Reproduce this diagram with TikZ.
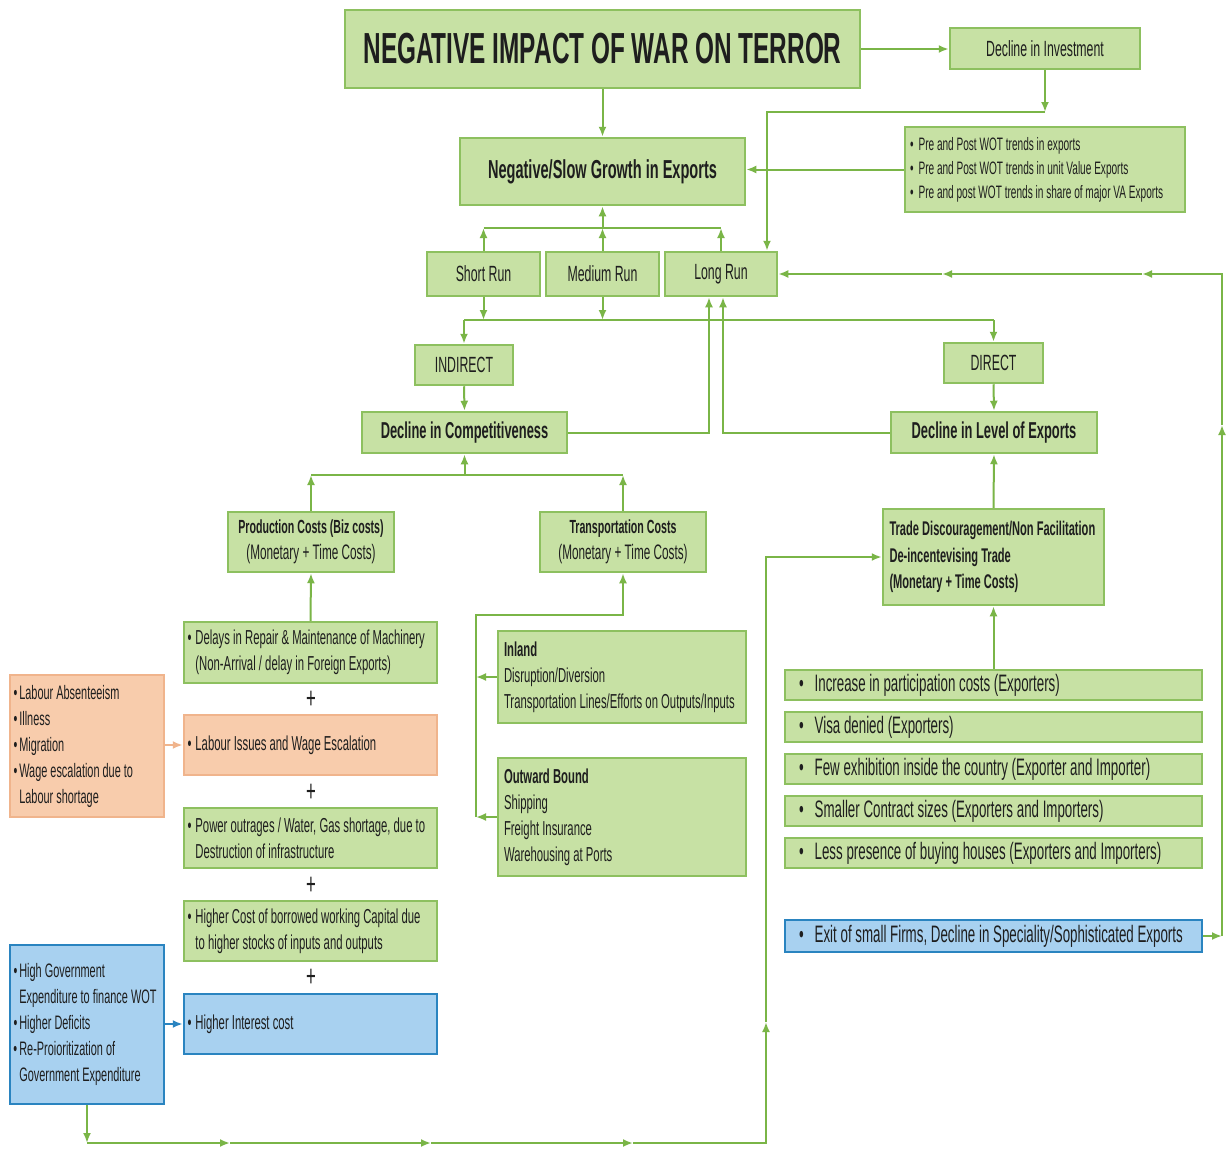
\documentclass[tikz,border=0pt]{standalone}
\usepackage{fontspec}
\setmainfont{Liberation Sans}[FakeStretch=0.56]
\usetikzlibrary{arrows.meta}

\definecolor{boxgreen}{RGB}{199,225,164}
\definecolor{edgegreen}{RGB}{141,192,95}
\definecolor{linegreen}{RGB}{122,181,71}
\definecolor{boxorange}{RGB}{248,204,172}
\definecolor{edgeorange}{RGB}{240,180,140}
\definecolor{boxblue}{RGB}{168,209,240}
\definecolor{edgeblue}{RGB}{42,132,192}
\definecolor{inktext}{RGB}{30,30,30}

\tikzset{
  gbox/.style={draw=edgegreen, fill=boxgreen, line width=2.5pt, inner sep=0pt, text=inktext},
  obox/.style={gbox, draw=edgeorange, fill=boxorange},
  bbox/.style={gbox, draw=edgeblue, fill=boxblue},
  wire/.style={draw=linegreen, line width=2pt},
  arr/.style={wire, -{Latex[length=10pt,width=8pt]}},
  bigtxt/.style={font=\fontsize{22}{26}\selectfont},
  smalltxt/.style={font=\fontsize{20.2}{26}\selectfont},
  listtxt/.style={font=\fontsize{23.8}{26}\selectfont},
  plussign/.style={font=\fontsize{30}{30}\selectfont, text=inktext},
}

\begin{document}
\begin{tikzpicture}[x=1pt,y=-1pt]
\useasboundingbox[fill=white] (0,0) rectangle (1227,1149);

% Top row
\node[gbox, minimum width=515pt, minimum height=78pt, font=\fontsize{43.5}{50}\selectfont\bfseries] (title) at (602.5,49) {NEGATIVE IMPACT OF WAR ON TERROR};
\node[gbox, bigtxt, minimum width=190pt, minimum height=41pt] (invest) at (1045,48.5) {Decline in Investment};
\node[gbox, minimum width=285pt, minimum height=67pt, font=\fontsize{26}{30}\selectfont\bfseries] (slowgrowth) at (602.5,171.5) {Negative/Slow Growth in Exports};
\node[gbox, text width=270pt, inner xsep=5pt, minimum height=85pt, align=flush left, font=\fontsize{18}{24}\selectfont] (wotlist) at (1045,169.5)
  {\textbullet\hspace{5pt}Pre and Post WOT trends in exports\\\textbullet\hspace{5pt}Pre and Post WOT trends in unit Value Exports\\\textbullet\hspace{5pt}Pre and post WOT trends in share of major VA Exports};

% Runs
\node[gbox, bigtxt, minimum width=113pt, minimum height=44pt] (shortrun) at (483.5,274) {Short Run};
\node[gbox, bigtxt, minimum width=113pt, minimum height=44pt] (mediumrun) at (602.5,274) {Medium Run};
\node[gbox, bigtxt, minimum width=112pt, minimum height=44pt] (longrun) at (721,274) {Long Run};

% Indirect / direct
\node[gbox, bigtxt, minimum width=98pt, minimum height=40pt] (indirect) at (464,365) {INDIRECT};
\node[gbox, bigtxt, minimum width=99pt, minimum height=40pt] (direct) at (993.5,363) {DIRECT};
\node[gbox, minimum width=205pt, minimum height=41pt, font=\fontsize{23}{26}\selectfont\bfseries] (competit) at (464.5,432.5) {Decline in Competitiveness};
\node[gbox, minimum width=206pt, minimum height=41pt, font=\fontsize{23}{26}\selectfont\bfseries] (levelexp) at (994,432.5) {Decline in Level of Exports};

% Cost boxes
\node[gbox, font=\fontsize{19}{26}\selectfont, minimum width=166pt, minimum height=60pt, align=center] (prodcost) at (311,542) {\textbf{Production Costs (Biz costs)}\\{\fontsize{21}{26}\selectfont(Monetary + Time Costs)}};
\node[gbox, font=\fontsize{19}{26}\selectfont, minimum width=166pt, minimum height=60pt, align=center] (transcost) at (623,542) {\textbf{Transportation Costs}\\{\fontsize{21}{26}\selectfont(Monetary + Time Costs)}};
\node[gbox, text width=208pt, inner xsep=6.5pt, minimum height=96pt, align=flush left, font=\fontsize{19.8}{26.5}\selectfont\bfseries] (tradedisc) at (993.5,557)
  {Trade Discouragement/Non Facilitation\\De-incentevising Trade\\(Monetary + Time Costs)};

% Production cost chain
\node[gbox, smalltxt, text width=246pt, inner xsep=3.5pt, minimum height=61pt, align=flush left] (delays) at (310.5,652.5)
  {\textbullet\hspace{4pt}Delays in Repair \& Maintenance of Machinery\\\hphantom{\textbullet}\hspace{4pt}(Non-Arrival / delay in Foreign Exports)};
\node[plussign] (plusa) at (311,700) {+};
\node[obox, smalltxt, text width=246pt, inner xsep=3.5pt, minimum height=60pt, align=flush left] (labour) at (310.5,745)
  {\textbullet\hspace{4pt}Labour Issues and Wage Escalation};
\node[plussign] (plusb) at (311,793) {+};
\node[gbox, smalltxt, text width=246pt, inner xsep=3.5pt, minimum height=60pt, align=flush left] (power) at (310.5,838)
  {\textbullet\hspace{4pt}Power outrages / Water, Gas shortage, due to\\\hphantom{\textbullet}\hspace{4pt}Destruction of infrastructure};
\node[plussign] (plusc) at (311,886) {+};
\node[gbox, smalltxt, text width=246pt, inner xsep=3.5pt, minimum height=60pt, align=flush left] (borrowed) at (310.5,931)
  {\textbullet\hspace{4pt}Higher Cost of borrowed working Capital due\\\hphantom{\textbullet}\hspace{4pt}to higher stocks of inputs and outputs};
\node[plussign] (plusd) at (311,978) {+};
\node[bbox, smalltxt, text width=246pt, inner xsep=3.5pt, minimum height=60pt, align=flush left] (interest) at (310.5,1024)
  {\textbullet\hspace{4pt}Higher Interest cost};

% Side lists
\node[obox, text width=147pt, inner xsep=3.5pt, minimum height=142pt, align=flush left, font=\fontsize{19.5}{26}\selectfont] (labourlist) at (87,746)
  {\textbullet\hspace{2pt}Labour Absenteeism\\\textbullet\hspace{2pt}Illness\\\textbullet\hspace{2pt}Migration\\\textbullet\hspace{2pt}Wage escalation due to\\\hphantom{\textbullet}\hspace{2pt}Labour shortage};
\node[bbox, text width=147pt, inner xsep=3.5pt, minimum height=159pt, align=flush left, font=\fontsize{19.5}{26}\selectfont] (govlist) at (87,1024.5)
  {\textbullet\hspace{2pt}High Government\\\hphantom{\textbullet}\hspace{2pt}Expenditure to finance WOT\\\textbullet\hspace{2pt}Higher Deficits\\\textbullet\hspace{2pt}Re-Proioritization of\\\hphantom{\textbullet}\hspace{2pt}Government Expenditure};

% Transport chain
\node[gbox, smalltxt, text width=236pt, inner xsep=6pt, minimum height=92pt, align=flush left] (inland) at (622,677)
  {\textbf{Inland}\\Disruption/Diversion\\Transportation Lines/Efforts on Outputs/Inputs};
\node[gbox, smalltxt, text width=236pt, inner xsep=6pt, minimum height=118pt, align=flush left] (outward) at (622,817)
  {\textbf{Outward Bound}\\Shipping\\Freight Insurance\\Warehousing at Ports};

% Direct list
\node[gbox, listtxt, text width=389pt, inner xsep=14pt, minimum height=30pt, align=flush left] (partic) at (993.5,685) {\textbullet\hspace{11pt}Increase in participation costs (Exporters)};
\node[gbox, listtxt, text width=389pt, inner xsep=14pt, minimum height=30pt, align=flush left] (visa) at (993.5,727) {\textbullet\hspace{11pt}Visa denied (Exporters)};
\node[gbox, listtxt, text width=389pt, inner xsep=14pt, minimum height=30pt, align=flush left] (exhib) at (993.5,769) {\textbullet\hspace{11pt}Few exhibition inside the country (Exporter and Importer)};
\node[gbox, listtxt, text width=389pt, inner xsep=14pt, minimum height=30pt, align=flush left] (contract) at (993.5,811) {\textbullet\hspace{11pt}Smaller Contract sizes (Exporters and Importers)};
\node[gbox, listtxt, text width=389pt, inner xsep=14pt, minimum height=30pt, align=flush left] (buying) at (993.5,853) {\textbullet\hspace{11pt}Less presence of buying houses (Exporters and Importers)};
\node[bbox, listtxt, text width=389pt, inner xsep=14pt, minimum height=32pt, align=flush left] (exitfirms) at (993.5,936) {\textbullet\hspace{11pt}Exit of small Firms, Decline in Speciality/Sophisticated Exports};

% Corner points
\coordinate (invbend) at (1045,112);
\coordinate (invdrop) at (767,112);
\coordinate (runtopl) at (483.5,228);
\coordinate (runtopm) at (602.5,228);
\coordinate (runtopr) at (721,228);
\coordinate (runbotl) at (483.5,320);
\coordinate (runbotm) at (602.5,320);
\coordinate (splitl) at (464,320);
\coordinate (splitr) at (993.5,320);
\coordinate (compturn) at (709,432.5);
\coordinate (levelturn) at (723,432.5);
\coordinate (costl) at (311,475);
\coordinate (costm) at (464.5,475);
\coordinate (costr) at (623,475);
\coordinate (transl) at (476,615);
\coordinate (transr) at (623,615);
\coordinate (inlandin) at (476,677);
\coordinate (outwardin) at (476,817);
\coordinate (govdrop) at (87,1143);
\coordinate (bota) at (230,1143);
\coordinate (botb) at (431,1143);
\coordinate (botc) at (633,1143);
\coordinate (botturn) at (766,1143);
\coordinate (riseup) at (766,1022);
\coordinate (riseturn) at (766,557);
\coordinate (exitout) at (1222,936);
\coordinate (sideup) at (1222,425);
\coordinate (sideturn) at (1222,274);
\coordinate (backa) at (1142,274);
\coordinate (backb) at (942,274);

% Connectors
\draw[arr] (title.east) -- (invest.west |- title.east);
\draw[arr] (title.south) -- (slowgrowth.north);
\draw[arr] (wotlist.west) -- (slowgrowth.east |- wotlist.west);
\draw[arr] (invest.south) -- (invbend);
\draw[arr] (invbend) -- (invdrop) -- (invdrop |- longrun.north);

\draw[wire] (runtopl) -- (runtopr);
\draw[arr] (shortrun.north) -- (runtopl);
\draw[arr] (mediumrun.north) -- (runtopm);
\draw[arr] (runtopm) -- (slowgrowth.south);
\draw[arr] (longrun.north) -- (runtopr);

\draw[arr] (shortrun.south) -- (runbotl);
\draw[arr] (mediumrun.south) -- (runbotm);
\draw[wire] (splitl) -- (splitr);
\draw[arr] (splitl) -- (indirect.north);
\draw[arr] (splitr) -- (direct.north);
\draw[arr] (indirect.south) -- (competit.north);
\draw[arr] (direct.south) -- (levelexp.north);

\draw[arr] (competit.east) -- (compturn) -- (compturn |- longrun.south);
\draw[arr] (levelexp.west) -- (levelturn) -- (levelturn |- longrun.south);

\draw[wire] (costl) -- (costr);
\draw[arr] (costm) -- (competit.south);
\draw[arr] (prodcost.north) -- (costl);
\draw[arr] (transcost.north) -- (costr);
\draw[arr] (delays.north) -- (prodcost.south);

\draw[arr] (inland.west) -- (inlandin);
\draw[arr] (outward.west) -- (outwardin);
\draw[arr] (outwardin) -- (transl) -- (transr) -- (transcost.south);

\draw[arr] (partic.north) -- (tradedisc.south);
\draw[arr] (tradedisc.north) -- (levelexp.south);

\draw[arr, draw=edgeorange] (labourlist.east |- labour.west) -- (labour.west);
\draw[arr, draw=edgeblue] (govlist.east |- interest.west) -- (interest.west);

% Feedback loops
\draw[arr] (govlist.south) -- (govdrop);
\draw[arr] (govdrop) -- (bota);
\draw[arr] (bota) -- (botb);
\draw[arr] (botb) -- (botc);
\draw[arr] (botc) -- (botturn) -- (riseup);
\draw[arr] (riseup) -- (riseturn) -- (tradedisc.west |- riseturn);

\draw[arr] (exitfirms.east) -- (exitout);
\draw[arr] (exitout) -- (sideup);
\draw[arr] (sideup) -- (sideturn) -- (backa);
\draw[arr] (backa) -- (backb);
\draw[arr] (backb) -- (longrun.east);

\end{tikzpicture}
\end{document}
